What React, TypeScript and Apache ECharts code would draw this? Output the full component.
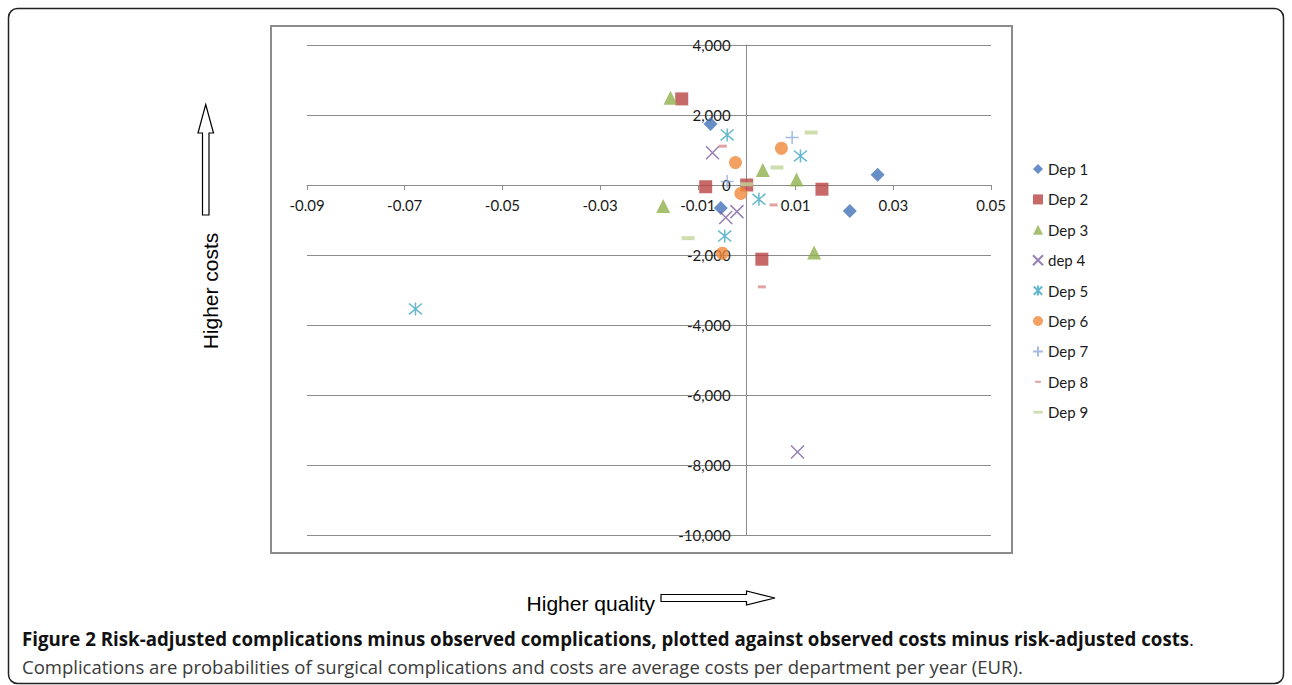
import React, { useEffect, useRef } from "react";
import * as echarts from "echarts";

// ---- data ----
const seriesNames = ["Dep 1", "Dep 2", "Dep 3", "dep 4", "Dep 5", "Dep 6", "Dep 7", "Dep 8", "Dep 9"];

const dep1: number[][] = [[-0.0074, 1740], [-0.0053, -660], [0.0211, -740], [0.0268, 290]];
const dep2: number[][] = [[-0.0133, 2460], [-0.0084, -50], [0.0, 0], [0.0031, -2120], [0.0154, -120]];
const dep3: number[][] = [[-0.0156, 2490], [-0.0171, -600], [0.0033, 430], [0.0102, 160], [0.0138, -1930]];
const dep4: number[][] = [[-0.007, 920], [-0.0043, -930], [-0.002, -760], [0.0104, -7630]];
const dep5: number[][] = [[-0.004, 1430], [0.011, 830], [0.0025, -410], [-0.0045, -1460], [-0.0678, -3540]];
const dep6: number[][] = [[-0.0023, 640], [0.0071, 1050], [-0.0012, -240], [-0.005, -1950]];
const dep7: number[][] = [[0.0093, 1360], [-0.004, 100]];
const dep8: number[][] = [[-0.0049, 1110], [0.0055, -570], [0.0031, -2910]];
const dep9: number[][] = [[0.0132, 1500], [0.0062, 500], [0.0, 20], [-0.012, -1520]];

const seriesData = [dep1, dep2, dep3, dep4, dep5, dep6, dep7, dep8, dep9];

const xMin = -0.09;
const xMax = 0.05;
const xStep = 0.02;
const yMin = -10000;
const yMax = 4000;
const yStep = 2000;

const captionBold = "Figure 2 Risk-adjusted complications minus observed complications, plotted against observed costs minus risk-adjusted costs";
const captionText = "Complications are probabilities of surgical complications and costs are average costs per department per year (EUR).";

// ---- styles ----
const colors = ["#4272B8", "#B84442", "#8FB24B", "#7D60A0", "#3FA6C2", "#F08A3C", "#8EA9DB", "#DA8C8A", "#C3D69B"];
const symbols = [
  "diamond",
  "rect",
  "triangle",
  "path://M0,0L12,12M12,0L0,12",
  "path://M1,1L11,11M11,1L1,11M6,0L6,12",
  "circle",
  "path://M6,0L6,12M0,6L12,6",
  "path://M0,0M14,14M3,5.5h8v3h-8z",
  "path://M0,0M14,14M0.5,5h13v4h-13z",
];
const sizes = [14, 13, 14, 13, 13, 13, 13, 14, 14];
const stroked = [false, false, false, true, true, false, true, false, false];

const gridLeft = 307;
const gridWidth = 684;
const gridTop = 45;
const gridHeight = 490;

function fmtThousands(v: number): string {
  const s = Math.abs(Math.round(v)).toString().replace(/\B(?=(\d{3})+(?!\d))/g, ",");
  return (v < 0 ? "-" : "") + s;
}

export default function App() {
  const ref = useRef<HTMLDivElement>(null);
  useEffect(() => {
    if (!ref.current) return;
    const chart = echarts.init(ref.current, null, { renderer: "svg" });
    const font = "Lato, 'Open Sans', sans-serif";
    // move both axes (line + labels) onto the other axis' zero
    const xZeroOffset = (gridHeight * (0 - yMin)) / (yMax - yMin);
    const yZeroOffset = (gridWidth * (0 - xMin)) / (xMax - xMin);
    const series = seriesNames.map((name, i) => ({
      name,
      type: "scatter",
      data: seriesData[i],
      symbol: symbols[i],
      symbolSize: sizes[i],
      itemStyle: stroked[i]
        ? { color: colors[i], borderColor: colors[i], borderWidth: 1.5 }
        : { color: colors[i] },
      emphasis: { disabled: true },
    }));
    chart.setOption({
      animation: false,
      backgroundColor: "#ffffff",
      grid: { left: gridLeft, top: gridTop, width: gridWidth, height: gridHeight, containLabel: false },
      xAxis: {
        type: "value",
        min: xMin,
        max: xMax,
        interval: xStep,
        position: "bottom",
        offset: -xZeroOffset,
        axisLine: { show: true, onZero: false, lineStyle: { color: "#8c8c8c", width: 1 } },
        axisTick: { show: true, length: 5, lineStyle: { color: "#8c8c8c" } },
        splitLine: { show: false },
        axisLabel: {
          color: "#1a1a1a",
          fontFamily: font,
          fontSize: 15,
          margin: 12,
          showMinLabel: true,
          showMaxLabel: true,
          formatter: (v: number) => (Math.round(v * 100) / 100).toFixed(2),
        },
      },
      yAxis: {
        type: "value",
        min: yMin,
        max: yMax,
        interval: yStep,
        position: "left",
        offset: -yZeroOffset,
        axisLine: { show: true, onZero: false, lineStyle: { color: "#8c8c8c", width: 1 } },
        axisTick: { show: false },
        splitLine: { show: true, lineStyle: { color: "#8c8c8c", width: 1 } },
        axisLabel: {
          color: "#1a1a1a",
          fontFamily: font,
          fontSize: 15,
          margin: 16,
          formatter: (v: number) => fmtThousands(v),
        },
      },
      legend: {
        orient: "vertical",
        left: 1027,
        top: 156.5,
        itemWidth: 10,
        itemHeight: 10,
        itemGap: 15.4,
        textStyle: { color: "#1a1a1a", fontFamily: font, fontSize: 15, lineHeight: 15 },
        data: seriesNames,
      },
      graphic: [
        {
          type: "rect",
          shape: { x: 8.5, y: 8.5, width: 1275, height: 675, r: 9 },
          style: { fill: "none", stroke: "#222", lineWidth: 1.5 },
          silent: true,
          z: -10,
        },
        {
          type: "rect",
          shape: { x: 271, y: 26, width: 741, height: 527 },
          style: { fill: "none", stroke: "#8c8c8c", lineWidth: 2 },
          silent: true,
          z: -10,
        },
        {
          type: "polygon",
          shape: {
            points: [
              [205.7, 104.5], [213.5, 133], [209, 133], [209, 215],
              [202.5, 215], [202.5, 133], [198, 133],
            ],
          },
          style: { fill: "#fff", stroke: "#000", lineWidth: 1.2 },
          silent: true,
        },
        {
          type: "text",
          x: 210,
          y: 291,
          rotation: Math.PI / 2,
          style: {
            text: "Higher costs",
            fill: "#000",
            font: "21px 'Liberation Sans', Arial, sans-serif",
            align: "center",
            verticalAlign: "middle",
          },
          silent: true,
        },
        {
          type: "text",
          x: 655,
          y: 603,
          style: {
            text: "Higher quality",
            fill: "#000",
            font: "21px 'Liberation Sans', Arial, sans-serif",
            align: "right",
            verticalAlign: "middle",
          },
          silent: true,
        },
        {
          type: "polygon",
          shape: {
            points: [
              [661, 594.5], [746.5, 594.5], [746.5, 591], [775, 598],
              [746.5, 605], [746.5, 601.5], [661, 601.5],
            ],
          },
          style: { fill: "#fff", stroke: "#000", lineWidth: 1.2 },
          silent: true,
        },
        {
          type: "text",
          x: 22,
          y: 638,
          style: {
            text: "{b|" + captionBold + "}{r|.}",
            rich: {
              b: { font: "bold 18.7px 'Open Sans', sans-serif", fill: "#111" },
              r: { font: "18.7px 'Open Sans', sans-serif", fill: "#111" },
            },
            verticalAlign: "middle",
          },
          silent: true,
        },
        {
          type: "text",
          x: 22,
          y: 666,
          style: {
            text: captionText,
            fill: "#3a3a3a",
            font: "18.5px 'Open Sans', sans-serif",
            verticalAlign: "middle",
          },
          silent: true,
        },
      ],
      series,
    });
    return () => chart.dispose();
  }, []);
  return (
    <div
      ref={ref}
      style={{ position: "absolute", left: 0, top: 0, width: 1292, height: 685, background: "#fff" }}
    />
  );
}
